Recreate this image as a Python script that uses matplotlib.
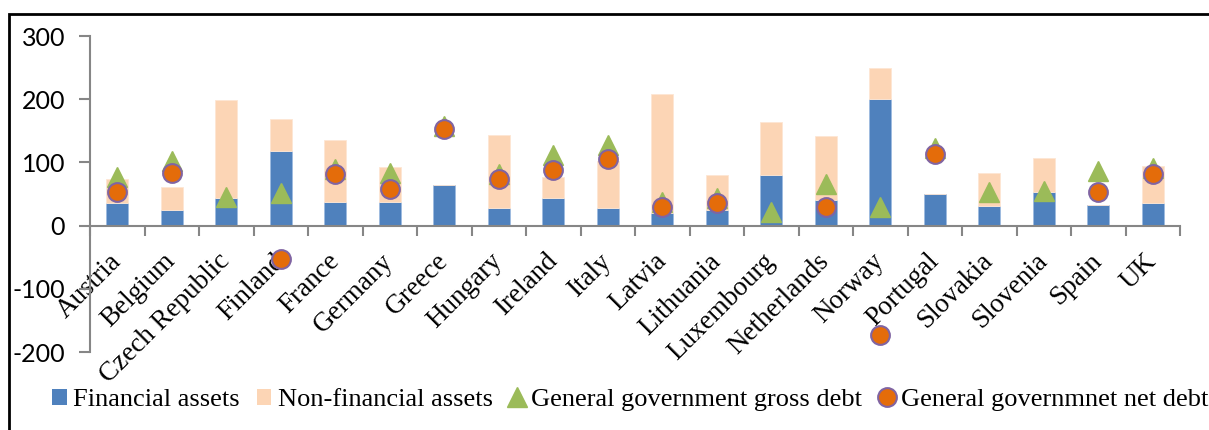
import matplotlib.pyplot as plt
import numpy as np
from matplotlib.lines import Line2D
from matplotlib.patches import Patch, Rectangle
from matplotlib.transforms import ScaledTranslation

plt.rcParams['axes.unicode_minus'] = False

# data (% of GDP)
countries = ['Austria', 'Belgium', 'Czech Republic', 'Finland', 'France', 'Germany',
             'Greece', 'Hungary', 'Ireland', 'Italy', 'Latvia', 'Lithuania',
             'Luxembourg', 'Netherlands', 'Norway', 'Portugal', 'Slovakia',
             'Slovenia', 'Spain', 'UK']
financial = [35, 24, 44, 118, 38, 37, 64, 28, 44, 28, 20, 25, 80, 40, 201, 50, 31, 53, 33, 35]
non_financial = [38, 37, 155, 50, 98, 56, 0, 115, 33, 75, 188, 55, 84, 101, 48, 0, 53, 54, 0, 60]
gross_debt = [77, 103, 46, 52, 90, 83, 158, 82, 112, 127, 38, 43, 22, 66, 30, 122, 53, 54, 86, 91]
net_debt = [53, 83, np.nan, -53, 82, 58, 153, 73, 88, 106, 29, 35, np.nan, 30, -173, 114,
            np.nan, np.nan, 53, 81]

blue = '#4f81bd'
peach = '#fcd5b5'
green = '#9bbb59'
orange = '#e46c0a'
purple = '#8064a2'
axis_grey = '#868686'

fig = plt.figure(figsize=(12.09, 4.30), dpi=100)
ax = fig.add_axes([90 / 1209, 1 - 352 / 430, 1090 / 1209, 316 / 430])

x = np.arange(len(countries))
width = 0.4

ax.bar(x, financial, width, color=blue, edgecolor='#9dbbe0', linewidth=0.6, zorder=2)
ax.bar(x, non_financial, width, bottom=financial, color=peach, edgecolor='#fde6d4',
       linewidth=0.6, zorder=2)
ax.plot(x, gross_debt, linestyle='none', marker='^', markersize=15, color=green,
        markeredgecolor=green, zorder=3)
ax.plot(x, net_debt, linestyle='none', marker='o', markersize=13.5, color=orange,
        markeredgecolor=purple, markeredgewidth=1.5, zorder=4)

ax.set_xlim(-0.5, len(countries) - 0.5)
ax.set_ylim(-200, 300)
ax.set_yticks([-200, -100, 0, 100, 200, 300])

for s in ['top', 'right']:
    ax.spines[s].set_visible(False)
ax.spines['bottom'].set_position(('data', 0))
ax.spines['bottom'].set_color(axis_grey)
ax.spines['left'].set_color(axis_grey)
ax.spines['bottom'].set_linewidth(1.5)
ax.spines['left'].set_linewidth(1.5)

ax.tick_params(axis='y', length=8, width=1.5, color=axis_grey, pad=10, labelsize=18,
               labelfontfamily='Lato')

ax.set_xticks(x)
ax.set_xticklabels(countries, rotation=45, ha='right', va='center', rotation_mode='anchor',
                   family='Liberation Serif', fontsize=19.5)
shift = ScaledTranslation(4 / 100, 0, fig.dpi_scale_trans)
for lab in ax.get_xticklabels():
    lab.set_transform(lab.get_transform() + shift)
ax.set_xticks(np.arange(-0.5, len(countries)), minor=True)
ax.tick_params(axis='x', which='major', length=0, pad=23)
ax.tick_params(axis='x', which='minor', length=7, width=1.5, color=axis_grey)

handles = [
    Patch(facecolor=blue, edgecolor='none', label='Financial assets'),
    Patch(facecolor=peach, edgecolor='none', label='Non-financial assets'),
    Line2D([], [], linestyle='none', marker='^', markersize=15, color=green,
           label='General government gross debt'),
    Line2D([], [], linestyle='none', marker='o', markersize=13.5, color=orange,
           markeredgecolor=purple, markeredgewidth=1.5, label='General governmnet net debt'),
]
fig.legend(handles=handles, loc='center left', bbox_to_anchor=(52 / 1209, 0.07), ncol=4,
           frameon=False, prop={'family': 'Liberation Serif', 'size': 19},
           handlelength=0.55, handleheight=0.55, handletextpad=0.25, columnspacing=0.65,
           borderaxespad=0, borderpad=0)

# outer frame of the chart area
fig.add_artist(Rectangle((9 / 1209, -0.01), 1.01, 1 - 14 / 430 + 0.01,
                         transform=fig.transFigure, fill=False, edgecolor='black',
                         linewidth=2))

fig.savefig('out.png', dpi=100)
